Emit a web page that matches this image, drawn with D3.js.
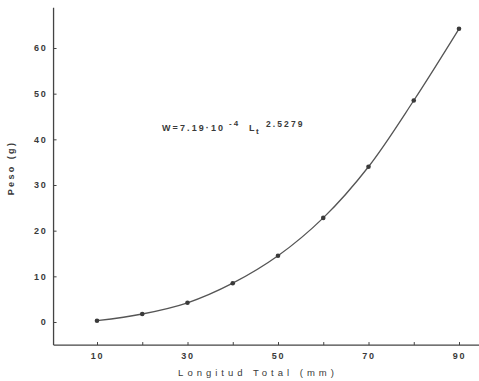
<!DOCTYPE html>
<html>
<head>
<meta charset="utf-8">
<script src="https://cdn.jsdelivr.net/npm/d3@7"></script>
<style>
  html, body { margin: 0; padding: 0; background: #fff; }
  svg { display: block; }
  text { font-family: "Liberation Sans", Arial, sans-serif; fill: #3a3a3a; }
</style>
</head>
<body>
<svg id="chart" width="479" height="381"></svg>
<script>
// Data
const lengths = [10, 20, 30, 40, 50, 60, 70, 80, 90];
const weights = [0.28, 1.75, 4.2, 8.5, 14.5, 22.8, 34.0, 48.5, 64.2];
const xTicks = [10, 20, 30, 40, 50, 60, 70, 80, 90];
const xTickLabels = ["10", "", "30", "", "50", "", "70", "", "90"];
const yTicks = [0, 10, 20, 30, 40, 50, 60];
const yTickLabels = ["0", "10", "20", "30", "40", "50", "60"];
const xTitle = "Longitud Total (mm)";
const yTitle = "Peso (g)";

const svg = d3.select("#chart");
const W = 479, H = 381;

const x = d3.scaleLinear().domain([10, 90]).range([97, 459]);
const y = d3.scaleLinear().domain([0, 60]).range([322, 48]);

const axisColor = "#444";

// Axis lines
const xAxisY = y(-5.05);
const yAxisX = x(0.4);
svg.append("line")
  .attr("x1", yAxisX).attr("x2", W)
  .attr("y1", xAxisY).attr("y2", xAxisY)
  .attr("stroke", axisColor).attr("stroke-width", 1.3);
svg.append("line")
  .attr("x1", yAxisX).attr("x2", yAxisX)
  .attr("y1", y(68.8)).attr("y2", xAxisY)
  .attr("stroke", axisColor).attr("stroke-width", 1.3);

// X axis
const gx = svg.append("g").attr("transform", `translate(0,${xAxisY})`)
  .call(d3.axisBottom(x).tickValues(xTicks)
    .tickFormat((d, i) => xTickLabels[i])
    .tickSizeInner(-3).tickSizeOuter(0).tickPadding(8));
gx.select(".domain").remove();
gx.selectAll(".tick line").attr("stroke", axisColor).attr("stroke-width", 1);
gx.selectAll(".tick text")
  .style("font-family", "'Liberation Sans', Arial, sans-serif")
  .style("font-size", "9px").style("font-weight", "bold")
  .style("letter-spacing", "1.8px").attr("fill", "#3a3a3a");

// Y axis
const gy = svg.append("g").attr("transform", `translate(${yAxisX},0)`)
  .call(d3.axisLeft(y).tickValues(yTicks)
    .tickFormat((d, i) => yTickLabels[i])
    .tickSizeInner(-3).tickSizeOuter(0).tickPadding(6));
gy.select(".domain").remove();
gy.selectAll(".tick line").attr("stroke", axisColor).attr("stroke-width", 1);
gy.selectAll(".tick text")
  .style("font-family", "'Liberation Sans', Arial, sans-serif")
  .style("font-size", "9px").style("font-weight", "bold")
  .style("letter-spacing", "1.8px").attr("fill", "#3a3a3a");

// Curve through points
const pts = lengths.map((l, i) => [l, weights[i]]);
const line = d3.line().x(d => x(d[0])).y(d => y(d[1])).curve(d3.curveCatmullRom.alpha(0.5));
svg.append("path").datum(pts)
  .attr("d", line)
  .attr("fill", "none")
  .attr("stroke", "#555")
  .attr("stroke-width", 1.3);

svg.selectAll("circle.pt").data(pts).enter().append("circle")
  .attr("class", "pt")
  .attr("cx", d => x(d[0])).attr("cy", d => y(d[1]))
  .attr("r", 2.3).attr("fill", "#3a3a3a");

// Axis titles
svg.append("text")
  .attr("x", 258).attr("y", 376)
  .attr("text-anchor", "middle")
  .style("font-size", "9.5px").style("letter-spacing", "4px")
  .text(xTitle);

svg.append("text")
  .attr("transform", "translate(14,168) rotate(-90)")
  .attr("text-anchor", "middle")
  .style("font-size", "9px").style("font-weight", "bold").style("letter-spacing", "2.4px")
  .text(yTitle);

// Equation
const eq = svg.append("text")
  .attr("y", 131)
  .style("font-size", "9px").style("font-weight", "bold").style("letter-spacing", "2.1px");
eq.append("tspan").attr("x", 162).text("W=7.19·10");
eq.append("tspan").attr("x", 229).attr("y", 126).style("font-size", "8px").text("-4");
eq.append("tspan").attr("x", 249).attr("y", 131).text("L");
eq.append("tspan").attr("x", 256).attr("y", 134).style("font-size", "8px").text("t");
eq.append("tspan").attr("x", 266).attr("y", 127).style("font-size", "8.5px").text("2.5279");
</script>
</body>
</html>
